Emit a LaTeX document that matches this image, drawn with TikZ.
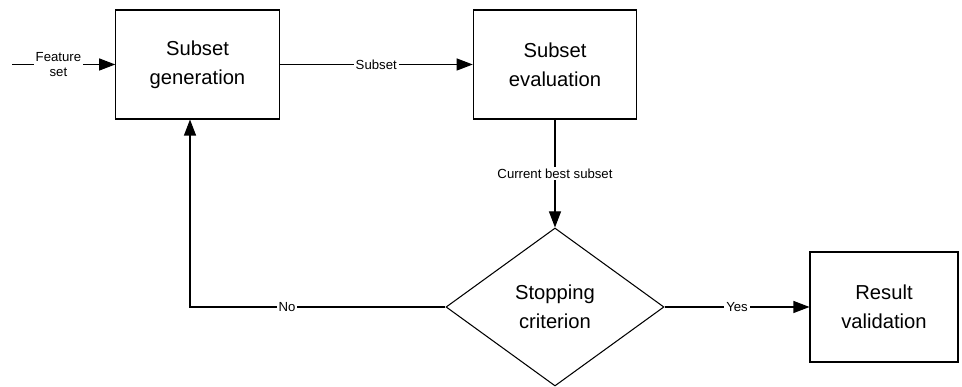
\documentclass[tikz,border=0pt]{standalone}
\usepackage{fontspec}
\setmainfont{Liberation Sans}
\usetikzlibrary{shapes.geometric, arrows.meta}

\tikzset{
	block/.style = {draw, align = center, minimum width = 3.27cm, minimum height = 2.18cm,
		font = \fontsize{11.5}{16.5}\selectfont},
	decision/.style = {draw, diamond, align = center, minimum width = 4.36cm, minimum height = 3.16cm,
		inner sep = 0pt, font = \fontsize{11.5}{16.5}\selectfont},
	tag/.style = {fill = white, inner sep = 1pt, align = center, font = \fontsize{7.5}{9}\selectfont}
}

\begin{document}
\begin{tikzpicture}[> = {Triangle[length = 0.32cm, width = 0.24cm]}, line width = 0.6pt]

	% Definitions

	\def\yTop{6.45}		% Height of the upper row
	\def\yLow{1.6}		% Height of the lower row

	\useasboundingbox (0, 0) rectangle (19.24, 7.74);

	% Blocks

	\node [block] (gen) at (3.95, \yTop) {Subset\\generation};
	\node [block] (eval) at (11.1, \yTop) {Subset\\evaluation};
	\node [decision] (stop) at (11.1, \yLow) {Stopping\\criterion};
	\node [block, minimum width = 2.96cm, minimum height = 2.2cm] (res) at (17.68, \yLow) {Result\\validation};

	\coordinate (in) at (0.24, \yTop);
	\path (gen.south) ++ (-0.15, 0) coordinate (back);

	% Connectors

	\draw [->] (in) -- node [tag, pos = 0.45] {Feature\\set} (gen);
	\draw [->] (gen) -- node [tag] {Subset} (eval);
	\draw [->] (eval) -- node [tag] {Current best subset} (stop);
	\draw [->] (stop) -- node [tag] {Yes} (res);
	\draw [->] (stop.west) -| node [tag, pos = 0.31] {No} (back);

\end{tikzpicture}
\end{document}
